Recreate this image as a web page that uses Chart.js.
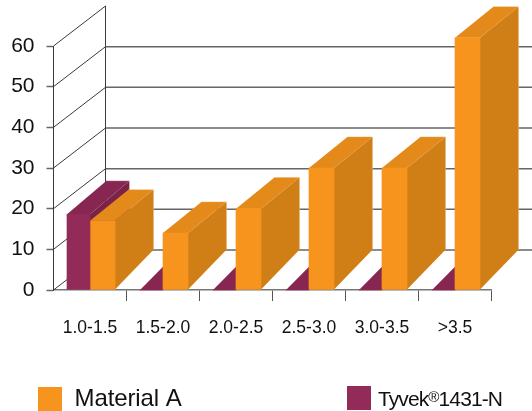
<!DOCTYPE html>
<html>
<head>
<meta charset="utf-8">
<style>
  html, body { margin: 0; padding: 0; background: #fff; }
  canvas { display: block; }
</style>
<script src="https://cdn.jsdelivr.net/npm/chart.js@4"></script>
</head>
<body>
<canvas id="chart" width="532" height="411"></canvas>
<script>
// Fabric comparison by size band, drawn as a pseudo-3D bar chart.
const categories = ['1.0-1.5', '1.5-2.0', '2.0-2.5', '2.5-3.0', '3.0-3.5', '>3.5'];
const materialA = [17, 14, 20, 30, 30, 62];
const tyvek = [18.6, 0, 0, 0, 0, 0];
const yTicks = [0, 10, 20, 30, 40, 50, 60];

const FONT = '"Liberation Sans", Arial, sans-serif';
const WALL = { dx: 52, dy: 40 };

// Per-series depth and face shades for the extruded boxes.
const shades = {
  'Material A': { front: '#F7941E', top: '#E38A1A', side: '#D07F16', dx: 38.7, lift: 8.7 },
  'Tyvek®1431-N': { front: '#922B57', top: '#872650', side: '#7B2249', dx: 39.5, lift: 6.4 }
};

function poly(ctx, pts, fill) {
  ctx.beginPath();
  pts.forEach((p, i) => (i ? ctx.lineTo(p[0], p[1]) : ctx.moveTo(p[0], p[1])));
  ctx.closePath();
  ctx.fillStyle = fill;
  ctx.fill();
}

function line(ctx, x0, y0, x1, y1, color, width) {
  ctx.beginPath();
  ctx.moveTo(x0, y0);
  ctx.lineTo(x1, y1);
  ctx.strokeStyle = color;
  ctx.lineWidth = width;
  ctx.stroke();
}

// Side wall, back wall grid and floor, placed from the value scale.
const wallsPlugin = {
  id: 'walls',
  beforeDatasetsDraw(chart) {
    const { ctx, scales: { y }, chartArea: { left }, width } = chart;
    ctx.save();
    const backX = left + WALL.dx;
    const floorY = y.getPixelForValue(0);
    yTicks.forEach(v => {
      const fy = y.getPixelForValue(v);
      line(ctx, left, fy, backX, fy - WALL.dy, '#3a3a3a', 1);
      if (v < 60) line(ctx, backX, fy - WALL.dy, width, fy - WALL.dy, '#666', 1.5);
    });
    line(ctx, backX, floorY - WALL.dy, backX, y.getPixelForValue(60) - WALL.dy, '#3a3a3a', 1);
    ctx.restore();
  }
};

// Top and side faces of every box, behind the flat fronts the bar elements draw.
const boxPlugin = {
  id: 'boxes',
  beforeDatasetsDraw(chart) {
    const { ctx, data } = chart;
    ctx.save();
    data.datasets.forEach((ds, di) => {
      const s = shades[ds.label];
      chart.getDatasetMeta(di).data.forEach(el => {
        const { x, y, base, width } = el.getProps(['x', 'y', 'base', 'width'], true);
        const l = x - width / 2, r = x + width / 2;
        const backBase = base - WALL.dy;
        const backTop = backBase - Math.max(0, base - y - s.lift);
        poly(ctx, [[r, y], [r + s.dx, backTop], [r + s.dx, backBase], [r, base]], s.side);
        poly(ctx, [[l, y], [r, y], [r + s.dx, backTop], [l + s.dx, backTop]], s.top);
        // Pale highlight along the far edges of a standing box.
        if (base - y > 0) {
          ctx.beginPath();
          ctx.moveTo(l + s.dx, backTop);
          ctx.lineTo(r + s.dx, backTop);
          ctx.lineTo(r + s.dx, backBase);
          ctx.strokeStyle = 'rgba(255,255,255,0.28)';
          ctx.lineWidth = 1;
          ctx.stroke();
        }
      });
    });
    ctx.restore();
  }
};

// Widely spaced key below the plot; a superscript mark is set smaller.
const keyPlugin = {
  id: 'key',
  afterDraw(chart) {
    const { ctx, data } = chart;
    const slots = { 'Material A': [38, 387, 74.5, 24, -0.1], 'Tyvek®1431-N': [347, 386, 378, 21, -0.9] };
    ctx.save();
    ctx.textBaseline = 'alphabetic';
    data.datasets.forEach(ds => {
      const [bx, by, tx, size, spacing] = slots[ds.label];
      ctx.fillStyle = ds.backgroundColor;
      ctx.fillRect(bx, by, 24, 24);
      ctx.fillStyle = '#111';
      ctx.letterSpacing = spacing + 'px';
      let cx = tx;
      ds.label.split(/(®)/).forEach(part => {
        const mark = part === '®';
        ctx.font = (mark ? size * 0.72 : size) + 'px ' + FONT;
        ctx.fillText(part, cx, mark ? 402 : 406);
        cx += ctx.measureText(part).width;
      });
    });
    ctx.restore();
  }
};

new Chart(document.getElementById('chart'), {
  type: 'bar',
  data: {
    labels: categories,
    datasets: [
      { label: 'Tyvek®1431-N', data: tyvek, backgroundColor: shades['Tyvek®1431-N'].front, barThickness: 23, clip: false },
      { label: 'Material A', data: materialA, backgroundColor: shades['Material A'].front, barThickness: 25, clip: false }
    ]
  },
  plugins: [wallsPlugin, boxPlugin, keyPlugin],
  options: {
    responsive: false,
    animation: false,
    layout: { padding: { top: 46, right: 40.5, bottom: 0, left: 0 } },
    plugins: { legend: { display: false }, title: { display: false }, tooltip: { enabled: false } },
    scales: {
      x: {
        afterFit(scale) { scale.height = 121; },
        border: { color: '#777', width: 1.5 },
        grid: {
          drawOnChartArea: false,
          tickLength: 11,
          tickColor: ctx => (ctx.index === 0 ? 'rgba(0,0,0,0)' : '#555'),
          tickWidth: 1
        },
        ticks: {
          color: '#111',
          padding: 17,
          maxRotation: 0,
          autoSkip: false,
          font: { family: FONT, size: 17.5 }
        }
      },
      y: {
        min: 0,
        max: 60,
        afterFit(scale) { scale.width = 53.5; },
        afterBuildTicks(scale) { scale.ticks = yTicks.map(value => ({ value })); },
        border: { color: '#3a3a3a', width: 1 },
        grid: { drawOnChartArea: false, tickLength: 7, tickColor: '#666', tickWidth: 1.5 },
        ticks: {
          color: '#111',
          padding: 12,
          font: { family: FONT, size: 21 }
        }
      }
    }
  }
});
</script>
</body>
</html>
